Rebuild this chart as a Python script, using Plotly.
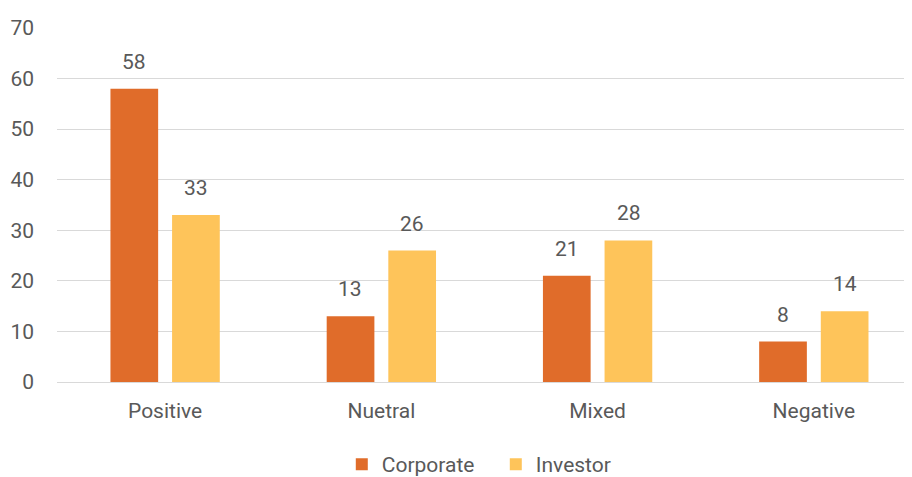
import plotly.graph_objects as go

categories = ["Positive", "Nuetral", "Mixed", "Negative"]
corporate = [58, 13, 21, 8]
investor = [33, 26, 28, 14]
y_ticks = [0, 10, 20, 30, 40, 50, 60, 70]

C_CORP = "#E06C2A"
C_INV = "#FEC45A"
TXT = "#595959"
FONT = "Roboto"
FS = 21
FW = 400

fig = go.Figure()
fig.add_trace(go.Bar(name="Corporate", x=categories, y=corporate, marker=dict(color=C_CORP, line=dict(width=0))))
fig.add_trace(go.Bar(name="Investor", x=categories, y=investor, marker=dict(color=C_INV, line=dict(width=0))))

for vals, shift in ((corporate, -31), (investor, 31)):
    for c, v in zip(categories, vals):
        fig.add_annotation(x=c, y=v, text=str(v), showarrow=False, xshift=shift, yshift=27,
                           font=dict(family=FONT, size=FS, color=TXT, weight=FW))

fig.update_layout(
    width=912, height=477,
    margin=dict(l=49, r=8, t=20, b=103, autoexpand=False),
    paper_bgcolor="white", plot_bgcolor="white",
    barmode="group", bargap=0.43, bargroupgap=0.226,
    font=dict(family=FONT, size=FS, color=TXT, weight=FW),
    showlegend=True,
    legend=dict(orientation="h", x=0.366, xref="container", xanchor="left", y=12, yref="container",
                yanchor="bottom", font=dict(family=FONT, size=FS, color=TXT, weight=FW),
                itemwidth=30, entrywidth=109, traceorder="normal"),
    xaxis=dict(range=[-0.5, 3.454], showgrid=False, showline=False, ticks="", automargin=False,
               ticklabelstandoff=14,
               tickfont=dict(family=FONT, size=FS, color=TXT, weight=FW)),
    yaxis=dict(range=[0, 70], tickvals=y_ticks, showgrid=True, gridcolor="#D9D9D9", gridwidth=1.3,
               zeroline=True, zerolinecolor="#D9D9D9", zerolinewidth=1.3, showline=False, ticks="",
               automargin=False, ticklabelstandoff=22,
               tickfont=dict(family=FONT, size=FS, color=TXT, weight=FW)),
)

fig.write_html("out.html")
